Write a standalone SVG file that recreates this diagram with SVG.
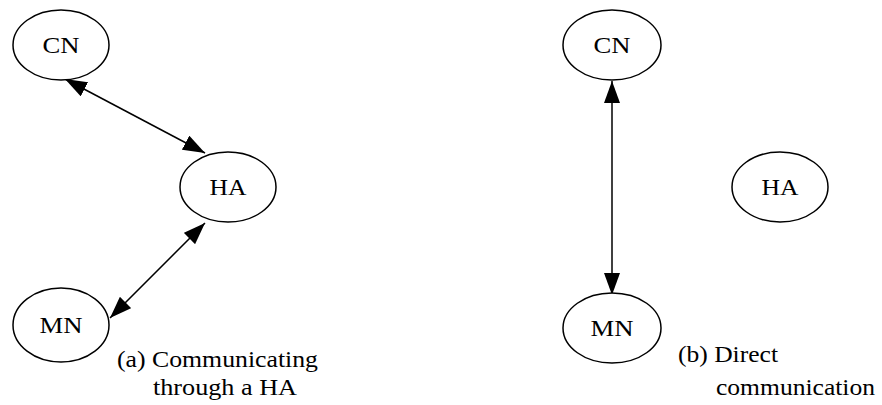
<svg xmlns="http://www.w3.org/2000/svg" width="882" height="405" viewBox="0 0 882 405">
  <defs>
    <marker id="tip" viewBox="0 0 22 16" refX="22" refY="8" markerWidth="22" markerHeight="16" markerUnits="userSpaceOnUse" orient="auto-start-reverse">
      <path d="M0,0 L22,8 L0,16 Z" fill="#000"/>
    </marker>
  </defs>
  <style>
    .node ellipse { fill: #fff; stroke: #000; stroke-width: 1.5; }
    .node text { font-family: "Liberation Serif", "DejaVu Serif", serif; font-size: 24px; text-anchor: middle; fill: #000; }
    .edge { stroke: #000; stroke-width: 1.5; fill: none; marker-start: url(#tip); marker-end: url(#tip); }
    .caption { font-family: "Liberation Serif", "DejaVu Serif", serif; font-size: 23px; fill: #000; }
  </style>
  <rect width="882" height="405" fill="#fff"/>

  <g id="connectors">
    <line class="edge" x1="65" y1="79" x2="205" y2="153"/>
    <line class="edge" x1="205" y1="223" x2="110" y2="318"/>
    <line class="edge" x1="612" y1="81" x2="612" y2="295"/>
  </g>

  <!-- (a) routing via the home agent -->
  <g id="a-cn" class="node">
    <ellipse cx="61" cy="45" rx="48" ry="35"/>
    <text x="61" y="53" textLength="37" lengthAdjust="spacingAndGlyphs">CN</text>
  </g>
  <g id="a-ha" class="node">
    <ellipse cx="228" cy="187" rx="48" ry="35"/>
    <text x="228" y="195" textLength="37" lengthAdjust="spacingAndGlyphs">HA</text>
  </g>
  <g id="a-mn" class="node">
    <ellipse cx="61" cy="325" rx="48" ry="37"/>
    <text x="61" y="333" textLength="43" lengthAdjust="spacingAndGlyphs">MN</text>
  </g>
  <text class="caption" x="117" y="367" textLength="201" lengthAdjust="spacingAndGlyphs">(a) Communicating</text>
  <text class="caption" x="153" y="395" textLength="144" lengthAdjust="spacingAndGlyphs">through a HA</text>

  <!-- (b) direct path -->
  <g id="b-cn" class="node">
    <ellipse cx="612" cy="45" rx="49" ry="35"/>
    <text x="612" y="53" textLength="37" lengthAdjust="spacingAndGlyphs">CN</text>
  </g>
  <g id="b-ha" class="node">
    <ellipse cx="780" cy="187" rx="48" ry="35"/>
    <text x="780" y="195" textLength="37" lengthAdjust="spacingAndGlyphs">HA</text>
  </g>
  <g id="b-mn" class="node">
    <ellipse cx="612" cy="328" rx="49" ry="35"/>
    <text x="612" y="336" textLength="43" lengthAdjust="spacingAndGlyphs">MN</text>
  </g>
  <text class="caption" x="678" y="362" textLength="100" lengthAdjust="spacingAndGlyphs">(b) Direct</text>
  <text class="caption" x="716" y="395" textLength="159" lengthAdjust="spacingAndGlyphs">communication</text>
</svg>
